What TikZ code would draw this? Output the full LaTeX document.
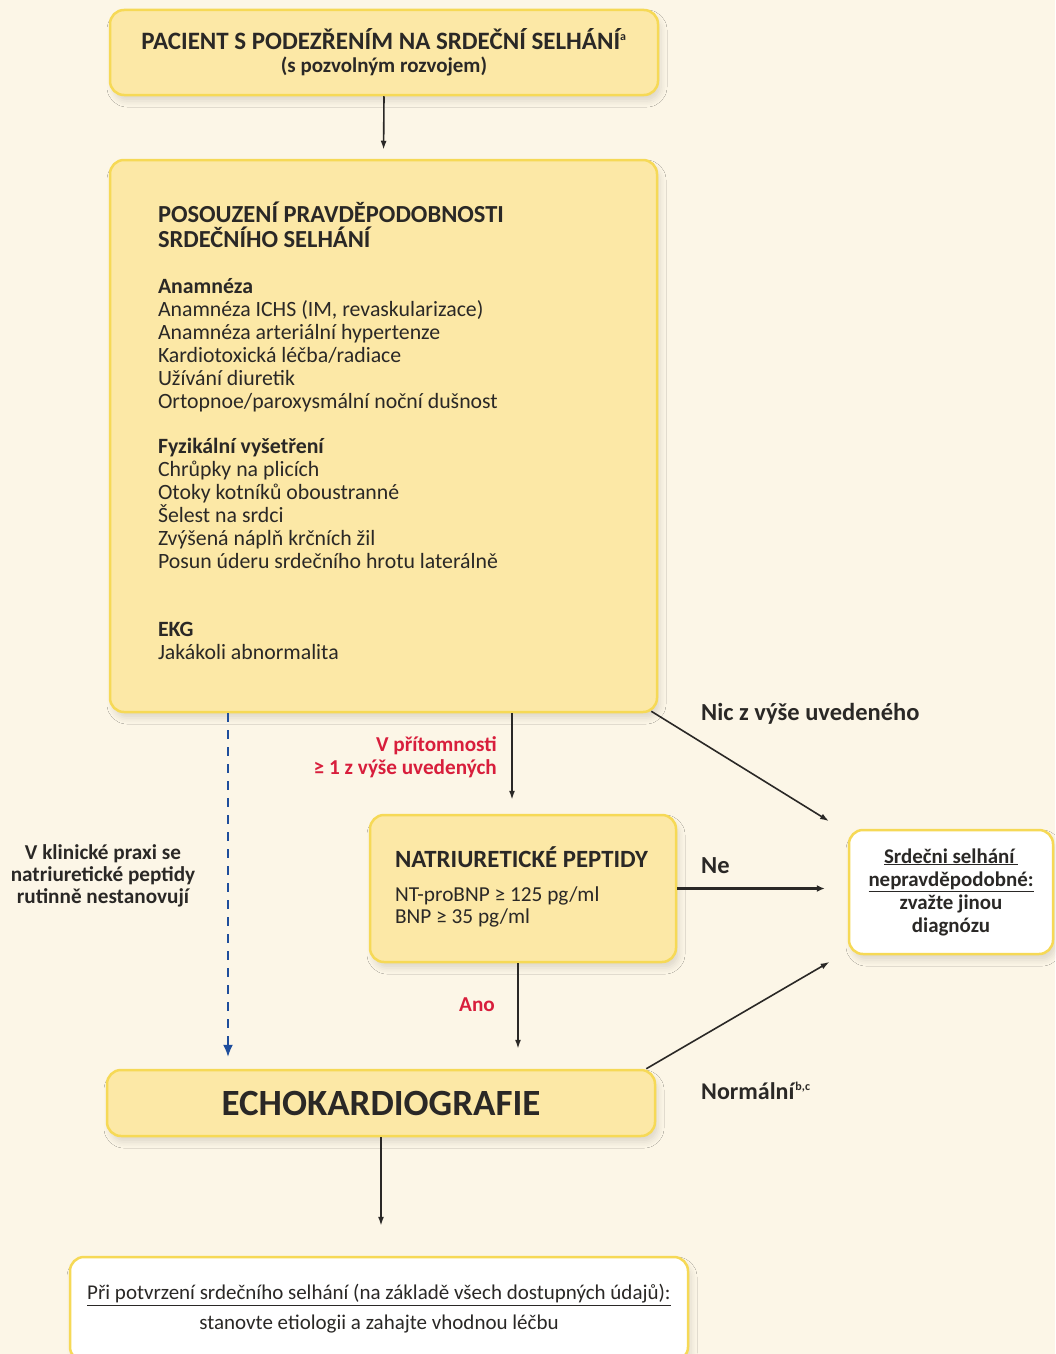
\documentclass[tikz,border=0pt]{standalone}
\usepackage{fontspec}
\setmainfont{Carlito}
\usetikzlibrary{arrows.meta,shadows.blur}
\definecolor{bgcol}{HTML}{FCF6E7}
\definecolor{boxfill}{HTML}{FCE8A6}
\definecolor{boxline}{HTML}{F6D956}
\definecolor{txt}{HTML}{2A2826}
\definecolor{redtxt}{HTML}{D81E3C}
\definecolor{dashblue}{HTML}{1F4E9C}
\newcommand{\hd}{\fontsize{24.5}{23}\selectfont\bfseries}
\newcommand{\smallsup}[1]{\textsuperscript{\fontsize{12}{12}\selectfont #1}}
\begin{document}
\begin{tikzpicture}[x=1pt,y=-1pt,
  box/.style={draw=boxline,fill=boxfill,line width=2.5pt,rounded corners=14pt,text=txt,
    blur shadow={shadow xshift=3pt,shadow yshift=-6pt,shadow blur radius=6pt,shadow opacity=12}},
  whitebox/.style={box,fill=white},
  arr/.style={-{Latex[length=9pt,width=6pt]},line width=1.6pt,draw=txt},
  lbl/.style={text=txt,font=\fontsize{24.5}{28}\selectfont\bfseries,inner sep=0pt},
  redlbl/.style={lbl,text=redtxt,font=\fontsize{21.2}{23}\selectfont\bfseries}]
\fill[bgcol] (0,0) rectangle (1055,1354);
\useasboundingbox (0,0) rectangle (1055,1354);
% boxes
\node[box,minimum width=548,minimum height=85,align=center,
  font=\fontsize{25}{23}\selectfont\bfseries] (p) at (384,52.5)
  {PACIENT S PODEZŘENÍM NA SRDEČNÍ SELHÁNÍ\smallsup{a}\\
   {\fontsize{21}{23}\selectfont (s pozvolným rozvojem)}};
\node[box,minimum height=552,text width=451,inner xsep=48,align=flush left,
  font=\fontsize{21.8}{23}\selectfont] (a) at (383.5,436)
  {{\hd POSOUZENÍ PRAVDĚPODOBNOSTI}\\[2pt] {\hd SRDEČNÍHO SELHÁNÍ}\\[23pt]
   \textbf{Anamnéza}\\
   Anamnéza ICHS (IM, revaskularizace)\\
   Anamnéza arteriální hypertenze\\
   Kardiotoxická léčba/radiace\\
   Užívání diuretik\\
   Ortopnoe/paroxysmální noční dušnost\\[22pt]
   \textbf{Fyzikální vyšetření}\\
   Chrůpky na plicích\\
   Otoky kotníků oboustranné\\
   Šelest na srdci\\
   Zvýšená náplň krčních žil\\
   Posun úderu srdečního hrotu laterálně\\[45pt]
   \textbf{EKG}\\
   Jakákoli abnormalita\par\vspace*{10pt}};
\node[box,minimum height=147,text width=256,inner xsep=25,align=flush left,
  font=\fontsize{21.3}{22}\selectfont] (n) at (523,888.5)
  {{\fontsize{24.8}{26}\selectfont\bfseries NATRIURETICKÉ PEPTIDY}\\[12pt]
   NT-proBNP ≥ 125 pg/ml\\ BNP ≥ 35 pg/ml\par\vspace*{4pt}};
\node[whitebox,minimum width=204,minimum height=124,align=center,inner xsep=4,
  font=\fontsize{20.9}{23}\selectfont\bfseries] (r) at (951,892)
  {\underline{Srdečni selhání\,}\\ \underline{nepravděpodobné:}\\ zvažte jinou\\ diagnózu};
\node[box,minimum width=548,minimum height=66] (e) at (381,1103)
  {\fontsize{37}{40}\selectfont\bfseries ECHOKARDIOGRAFIE};
\node[whitebox,minimum width=618,minimum height=104,align=center,
  font=\fontsize{21}{30}\selectfont] (d) at (379,1309)
  {\underline{Při potvrzení srdečního selhání (na základě všech dostupných údajů):}\\
   stanovte etiologii a zahajte vhodnou léčbu};
% labels
\node[lbl,font=\fontsize{21.2}{22}\selectfont\bfseries,align=center] (k) at (103,876)
  {V klinické praxi se\\ natriuretické peptidy\\ rutinně nestanovují};
\node[redlbl,align=right,anchor=east] (v) at (497,757) {V přítomnosti\\ ≥ 1 z výše uvedených};
\node[lbl,anchor=west] (x) at (701,714) {Nic z výše uvedeného};
\node[lbl,anchor=west] (ne) at (701,866) {Ne};
\node[redlbl] (ano) at (477,1005) {Ano};
\node[lbl,font=\fontsize{24}{26}\selectfont\bfseries,anchor=west] (nor) at (701,1091)
  {Normální\kern1pt\smallsup{b,c}};
% connectors
\draw[arr,shorten >=9pt] (p.south) -- (a.north);
\draw[arr,shorten >=14pt] ([xshift=-11pt]n.north |- a.south) -- ([xshift=-11pt]n.north);
\draw[dashblue,line width=1.5pt,dash pattern=on 9pt off 8pt,shorten >=12pt,-{Latex[length=12pt,width=10pt]}]
  ([xshift=-153pt]e.north |- a.south) -- ([xshift=-153pt]e.north);
\draw[arr,line width=3.5pt,-{Latex[length=8pt,width=7pt]},shorten >=23pt] (n.east) -- (r.west |- n.east);
\draw[arr,shorten >=22pt] ([xshift=-7pt,yshift=2pt]a.south east) -- ([yshift=-4pt]r.north west);
\draw[arr,shorten >=21pt] ([xshift=-10pt]e.north east) -- ([yshift=4pt]r.south west);
\draw[arr,shorten >=20pt] ([xshift=-5pt]n.south) -- ([xshift=137pt]e.north);
\draw[arr,shorten >=30pt] (e.south) -- (d.north -| e.south);
\end{tikzpicture}
\end{document}
